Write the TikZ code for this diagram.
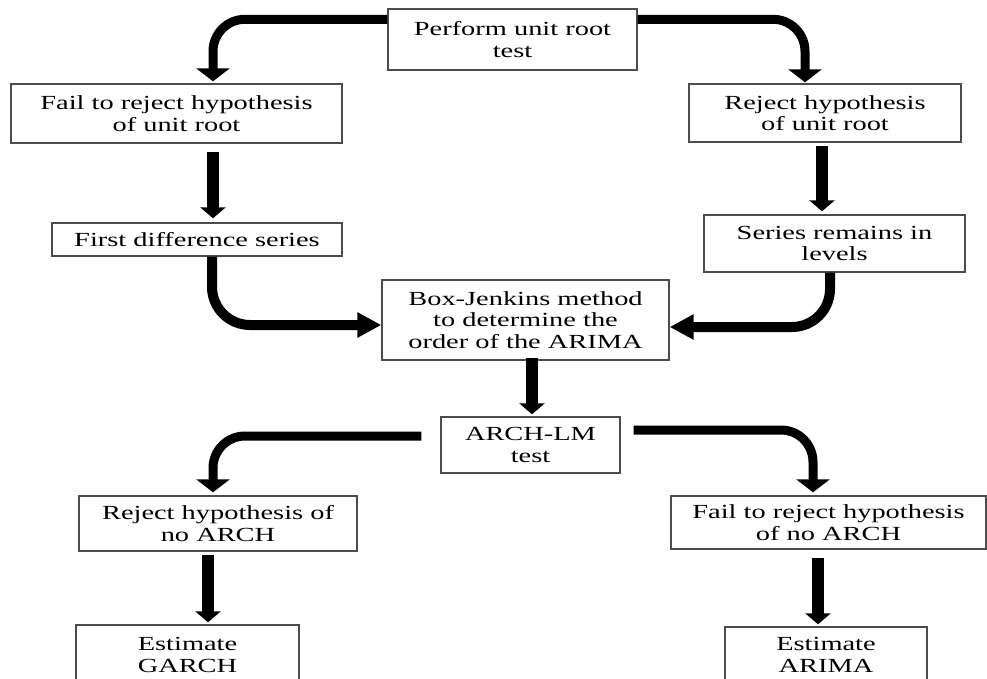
\documentclass[tikz,border=0pt]{standalone}
\usepackage{fontspec}
\setmainfont{Liberation Serif}[FakeStretch=1.42]
\usetikzlibrary{arrows.meta,calc}
\begin{document}
\begin{tikzpicture}[x=1pt,y=-1pt,
  box/.style={draw=black!70, line width=1.4pt, fill=white, align=center, inner sep=0pt,
    font=\fontsize{20}{21.5}\selectfont},
  bigarrow/.style={line width=9pt, rounded corners=32pt, -{Triangle[width=33pt,length=13pt]}},
  sidearrow/.style={line width=10pt, rounded corners=38pt, -{Triangle[width=24pt,length=24pt]}},
  straightarrow/.style={line width=12pt, -{Triangle[width=25pt,length=11pt]}}]
\clip (0,0) rectangle (987,679);
\fill[white] (0,0) rectangle (987,679);

\node[box, minimum width=249pt, minimum height=61pt] (perform) at (512.5,39.5) {Perform unit root\\test};
\node[box, minimum width=331pt, minimum height=59pt] (fail) at (176.5,113.5) {Fail to reject hypothesis\\of unit root};
\node[box, minimum width=272pt, minimum height=58pt] (reject) at (825,113) {Reject hypothesis\\of unit root};
\node[box, minimum width=290pt, minimum height=33pt] (first) at (197,239.5) {First difference series};
\node[box, minimum width=261pt, minimum height=57pt] (series) at (834.5,243.5) {Series remains in\\levels};
\node[box, minimum width=287pt, minimum height=80pt] (box) at (525.5,320) {Box-Jenkins method\\to determine the\\order of the ARIMA};
\node[box, minimum width=179pt, minimum height=56pt] (archlm) at (530.5,445) {ARCH-LM\\test};
\node[box, minimum width=278pt, minimum height=55pt] (rejarch) at (218,523.5) {Reject hypothesis of\\no ARCH};
\node[box, minimum width=315pt, minimum height=53pt] (failarch) at (828.5,522.5) {Fail to reject hypothesis\\of no ARCH};
\node[box, minimum width=223pt, minimum height=60pt] (garch) at (187.5,655) {Estimate\\GARCH};
\node[box, minimum width=202pt, minimum height=56pt] (arima) at (826,655) {Estimate\\ARIMA};

\draw[bigarrow] ([yshift=-11pt]perform.north west) -| ([xshift=36.5pt,yshift=2pt]fail.north);
\draw[bigarrow] ([yshift=-11pt]perform.north east) -| ([xshift=-20pt,yshift=1pt]reject.north);
\draw[straightarrow, shorten <=8pt, shorten >=4pt] ([xshift=36.5pt]fail.south) -- ([xshift=16pt]first.north);
\draw[straightarrow, shorten <=3pt, shorten >=3pt] ([xshift=-3pt]reject.south) -- ([xshift=-12.5pt]series.north);
\draw[sidearrow] ([xshift=15pt]first.south) |- ([yshift=-5pt]box.west);
\draw[sidearrow] ([xshift=-4.5pt]series.south) |- ([yshift=-7pt]box.east);
\draw[straightarrow] ([xshift=6.5pt,yshift=3pt]box.south) -- ([xshift=1.5pt,yshift=2pt]archlm.north);
\draw[bigarrow] ([xshift=-19pt,yshift=9pt]archlm.west) -| ([xshift=-5pt,yshift=3pt]rejarch.north);
\draw[bigarrow] ([xshift=13pt,yshift=15pt]archlm.east) -| ([xshift=-15.5pt,yshift=3pt]failarch.north);
\draw[straightarrow, shorten <=3pt, shorten >=2pt] ([xshift=-10pt]rejarch.south) -- ([xshift=20.5pt]garch.north);
\draw[straightarrow, shorten <=8pt, shorten >=2pt] ([xshift=-10.5pt]failarch.south) -- ([xshift=-8pt]arima.north);
\end{tikzpicture}
\end{document}
